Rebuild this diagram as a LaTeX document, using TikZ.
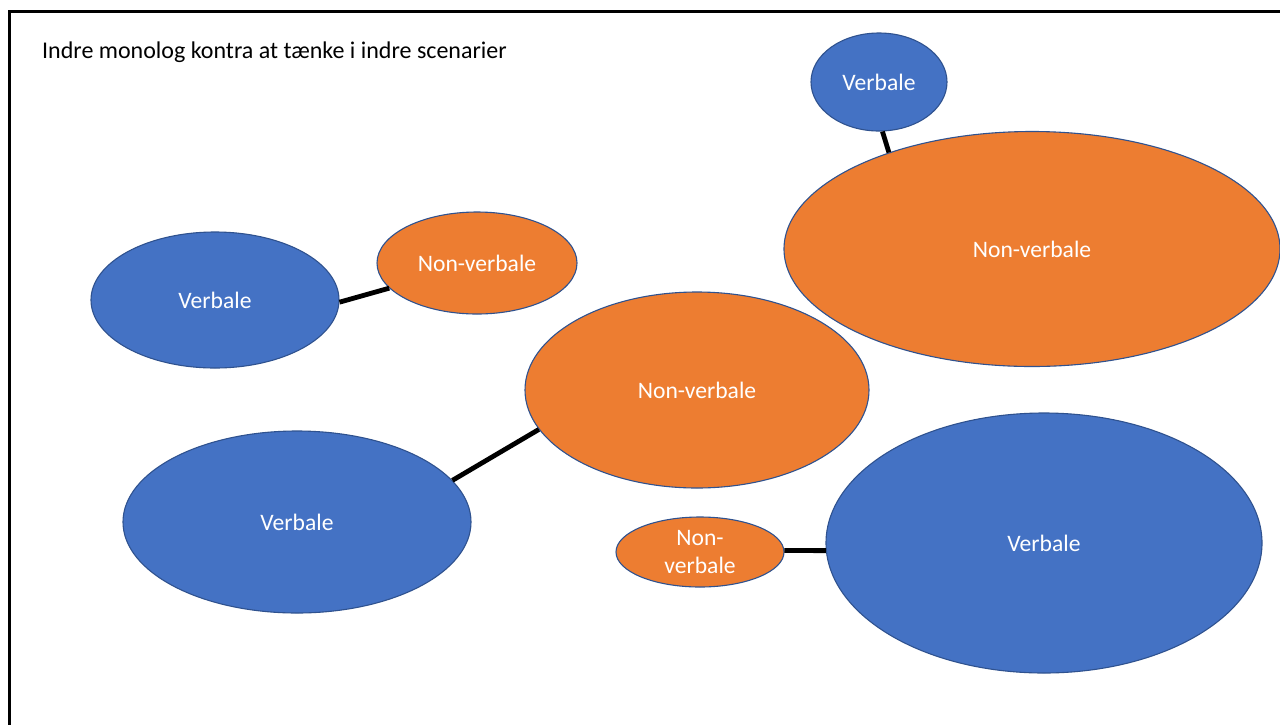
\documentclass[tikz,border=0pt]{standalone}
\usepackage{fontspec}
\setmainfont{Carlito}
\usetikzlibrary{shapes.geometric}
\definecolor{bl}{HTML}{4472C4}
\definecolor{orng}{HTML}{ED7D31}
\definecolor{edge}{HTML}{2F528F}
\tikzset{
  bubble/.style={ellipse, draw=edge, line width=1.1pt, inner sep=0pt, text=white,
    font=\fontsize{23.6}{28.5}\selectfont, align=center},
  blue/.style={bubble, fill=bl},
  orange/.style={bubble, fill=orng},
  link/.style={line width=4.8pt, black},
}
\begin{document}
\begin{tikzpicture}[x=1pt,y=-1pt]
\useasboundingbox (0,0) rectangle (1280,724);
\clip (0,0) rectangle (1280,724);
\fill[white] (0,0) rectangle (1280,724);
\draw[line width=3pt] (9.5,800) -- (9.5,11.5) -- (1300,11.5);
\node[anchor=west, inner sep=0pt, font=\fontsize{24}{28}\selectfont] (title) at (42,52) {Indre monolog kontra at tænke i indre scenarier};
\node[blue, minimum width=136pt, minimum height=98pt] (v1) at (879,82) {Verbale};
\node[orange, minimum width=496pt, minimum height=235pt] (n1) at (1032,249) {Non-verbale};
\node[blue, minimum width=248pt, minimum height=136pt] (v2) at (215,300) {Verbale};
\node[orange, minimum width=200pt, minimum height=102pt] (n2) at (477,263) {Non-verbale};
\node[orange, minimum width=344pt, minimum height=196pt] (n3) at (697,390) {Non-verbale};
\node[blue, minimum width=348pt, minimum height=182pt] (v3) at (297,522) {Verbale};
\node[orange, minimum width=168pt, minimum height=70pt] (n4) at (700,552) {Non-\\verbale};
\node[blue, minimum width=436pt, minimum height=260pt] (v4) at (1044,543) {Verbale};
\draw[link] (v1.-86) -- (n1.146);
\draw[link] (v2.-1) -- (n2.196);
\draw[link] (v3.15) -- (n3.194);
\draw[link] (n4.1) -- (v4.182);
\end{tikzpicture}
\end{document}
